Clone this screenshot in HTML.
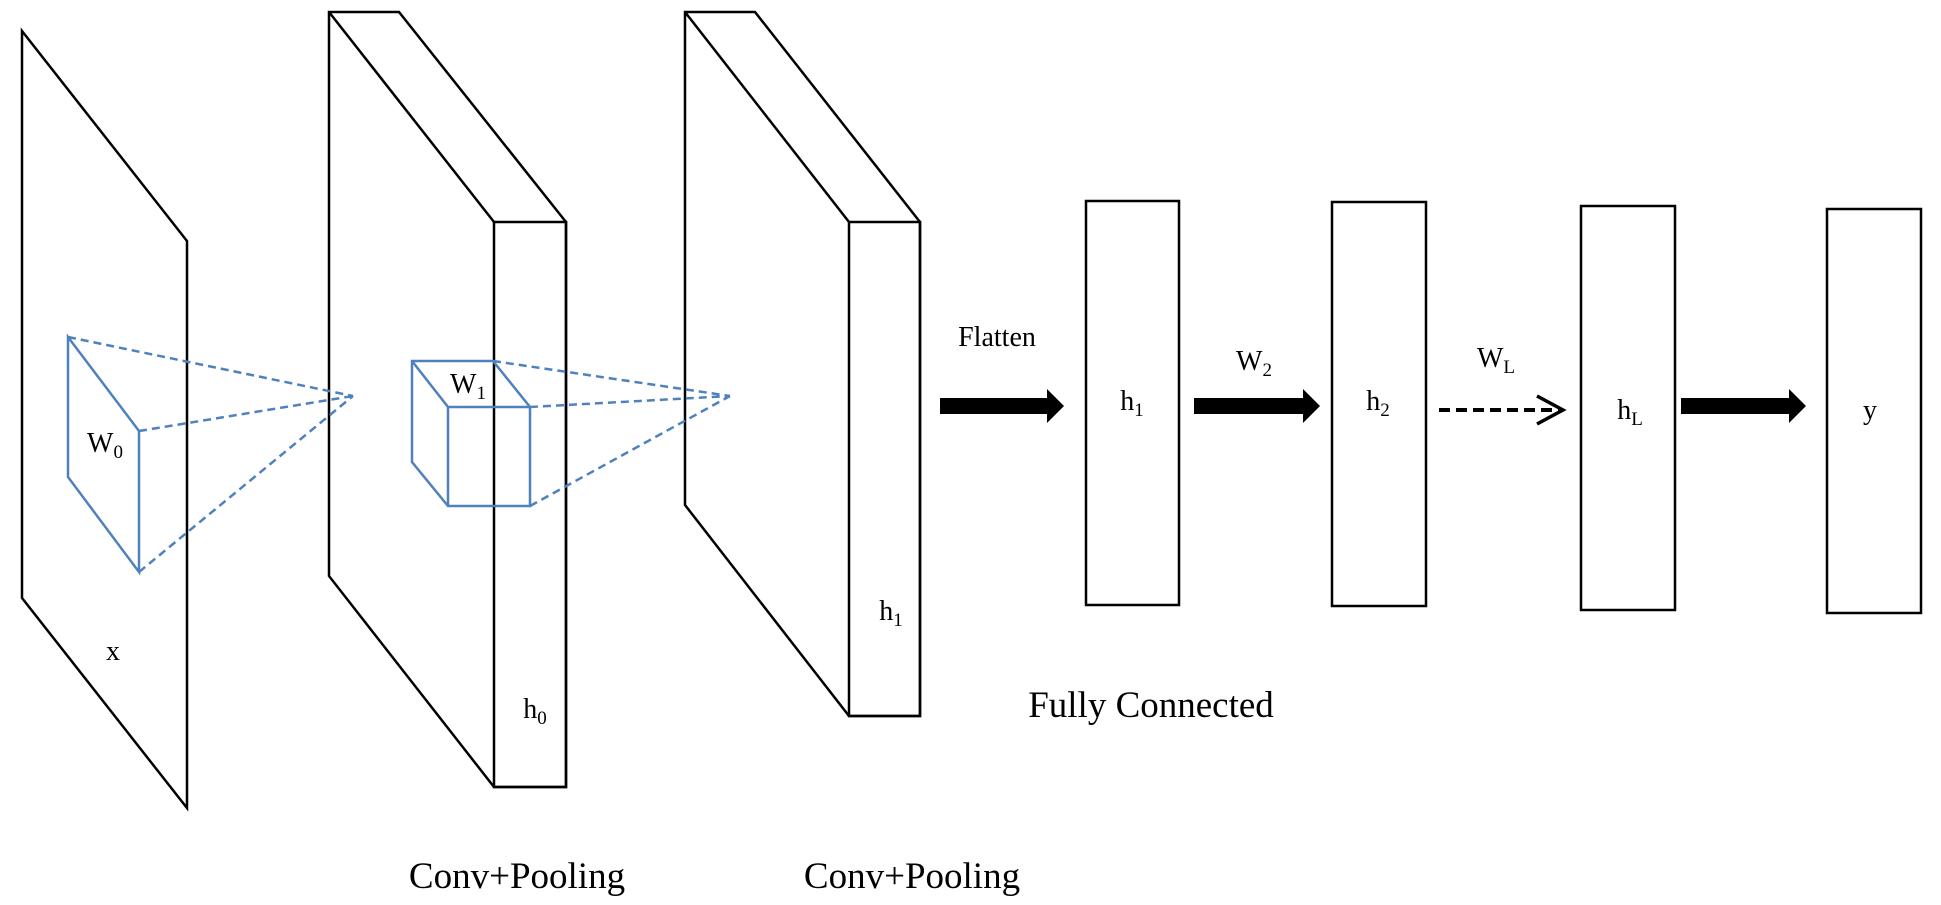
<!DOCTYPE html>
<html><head><style>html,body{margin:0;padding:0;background:#fff}svg{display:block}</style></head>
<body>
<svg width="1941" height="905" viewBox="0 0 1941 905" xmlns="http://www.w3.org/2000/svg" font-family="Liberation Serif, serif">
<g fill="none" stroke="#000" stroke-width="2.5">
<polygon points="22,31 187,241 187,808 22,598"/>
<polygon points="329,12 399,12 566,222 566,787 494,787 329,576"/>
<line x1="329" y1="12" x2="494" y2="222"/>
<rect x="494" y="222" width="72" height="565"/>
<polygon points="685,12 755,12 920,222 920,716 849,716 685,505"/>
<line x1="685" y1="12" x2="849" y2="222"/>
<rect x="849" y="222" width="71" height="494"/>
<rect x="1086" y="201" width="93" height="404"/>
<rect x="1332" y="202" width="94" height="404"/>
<rect x="1581" y="206" width="94" height="404"/>
<rect x="1827" y="209" width="94" height="404"/>
</g>
<g fill="none" stroke="#4f81bd" stroke-width="2.5">
<polygon points="68,337 139,431 139,572 68,477"/>
<polygon points="412,361 493,361 530,407 530,506 448,506 412,462"/>
<polyline points="412,361 448,407 530,407"/>
<line x1="448" y1="407" x2="448" y2="506"/>
<g stroke-dasharray="8,5">
<line x1="68" y1="337" x2="353" y2="396"/>
<line x1="139" y1="431" x2="353" y2="396"/>
<line x1="139" y1="572" x2="353" y2="396"/>
<line x1="493" y1="361" x2="730" y2="396"/>
<line x1="530" y1="407" x2="730" y2="396"/>
<line x1="530" y1="506" x2="730" y2="396"/>
</g>
</g>
<g fill="#000">
<polygon points="940,398 1047,398 1047,389 1064,406 1047,423 1047,414 940,414"/>
<polygon points="1194,398 1303,398 1303,389 1320,406 1303,423 1303,414 1194,414"/>
<polygon points="1681,398 1789,398 1789,389 1806,406 1789,423 1789,414 1681,414"/>
</g>
<line x1="1439" y1="410" x2="1560" y2="410" stroke="#000" stroke-width="4" stroke-dasharray="11,6"/>
<polyline points="1537,396 1563,410 1537,424" fill="none" stroke="#000" stroke-width="3.5"/>
<g font-size="28" fill="#000" text-anchor="middle">
<text x="113" y="660">x</text>
<text x="105" y="452">W<tspan font-size="19" dy="6">0</tspan></text>
<text x="468" y="393">W<tspan font-size="19" dy="6">1</tspan></text>
<text x="535" y="718">h<tspan font-size="19" dy="6">0</tspan></text>
<text x="891" y="620">h<tspan font-size="19" dy="6">1</tspan></text>
<text x="997" y="346">Flatten</text>
<text x="1132" y="410">h<tspan font-size="19" dy="6">1</tspan></text>
<text x="1254" y="370">W<tspan font-size="19" dy="6">2</tspan></text>
<text x="1378" y="410">h<tspan font-size="19" dy="6">2</tspan></text>
<text x="1496" y="367">W<tspan font-size="19" dy="6">L</tspan></text>
<text x="1630" y="419">h<tspan font-size="19" dy="6">L</tspan></text>
<text x="1870" y="419">y</text>
</g>
<g font-size="37" fill="#000" text-anchor="middle">
<text x="1151" y="717">Fully Connected</text>
<text x="517" y="888">Conv+Pooling</text>
<text x="912" y="888">Conv+Pooling</text>
</g>
</svg>
</body></html>
